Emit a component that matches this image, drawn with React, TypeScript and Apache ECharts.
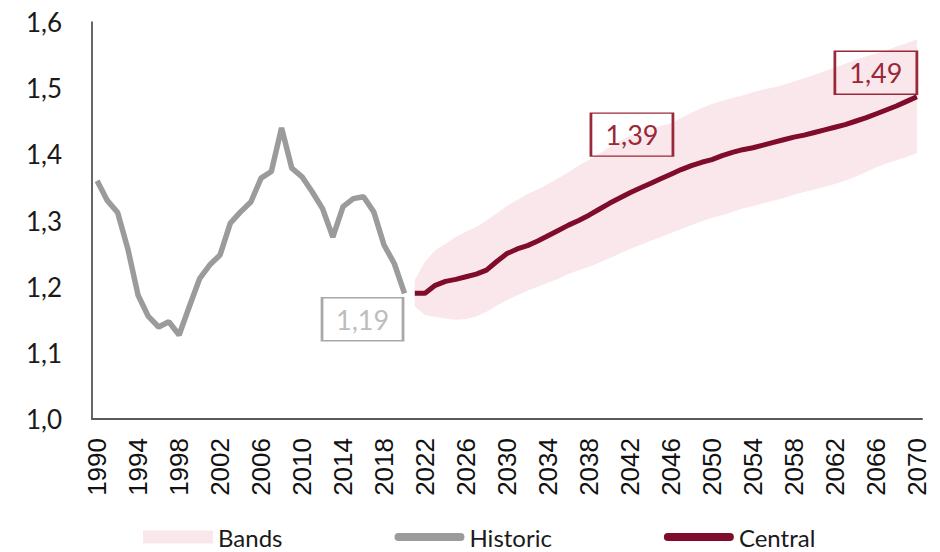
import React, { useEffect, useRef } from "react";
import * as echarts from "echarts";

const years: string[] = Array.from({ length: 81 }, (_, i) => String(1990 + i));

const historicYears = ["1990", "2020"];
const historic: number[] = [
  1.36, 1.33, 1.312, 1.257, 1.187, 1.155, 1.139, 1.147, 1.127, 1.17,
  1.212, 1.233, 1.248, 1.296, 1.313, 1.328, 1.364, 1.374, 1.44, 1.379,
  1.366, 1.343, 1.318, 1.275, 1.321, 1.333, 1.336, 1.313, 1.263, 1.235,
  1.19,
];

// 2021 - 2070
const central: number[] = [
  1.19, 1.19, 1.202, 1.208, 1.211, 1.215, 1.219, 1.225, 1.238, 1.25,
  1.257, 1.262, 1.269, 1.277, 1.285, 1.293, 1.3, 1.308, 1.317, 1.326,
  1.334, 1.342, 1.349, 1.356, 1.363, 1.37, 1.377, 1.383, 1.388, 1.392,
  1.398, 1.403, 1.407, 1.41, 1.414, 1.418, 1.422, 1.426, 1.429, 1.433,
  1.437, 1.441, 1.445, 1.45, 1.455, 1.461, 1.467, 1.473, 1.48, 1.487,
];

// 2021 - 2070
const bandUpper: number[] = [
  1.21, 1.238, 1.255, 1.265, 1.275, 1.283, 1.29, 1.3, 1.311, 1.322,
  1.331, 1.34, 1.347, 1.355, 1.364, 1.373, 1.383, 1.392, 1.401, 1.411,
  1.42, 1.428, 1.433, 1.438, 1.443, 1.447, 1.455, 1.463, 1.47, 1.476,
  1.481, 1.485, 1.489, 1.494, 1.498, 1.501, 1.505, 1.51, 1.515, 1.52,
  1.526, 1.531, 1.537, 1.543, 1.548, 1.552, 1.557, 1.563, 1.568, 1.574,
];
const bandLower: number[] = [
  1.17, 1.157, 1.154, 1.152, 1.15, 1.151, 1.155, 1.162, 1.171, 1.18,
  1.187, 1.194, 1.2, 1.206, 1.212, 1.219, 1.225, 1.23, 1.236, 1.243,
  1.25, 1.257, 1.263, 1.269, 1.275, 1.281, 1.287, 1.293, 1.299, 1.304,
  1.308, 1.313, 1.318, 1.322, 1.326, 1.33, 1.334, 1.339, 1.343, 1.347,
  1.351, 1.355, 1.36, 1.366, 1.373, 1.38, 1.386, 1.391, 1.396, 1.402,
];

const labelledCentralYears = ["2050", "2070"];

const GRAY = "#9B9B9B";
const RED = "#7E0C2A";
const BOXRED = "#9A2838";
const PINK = "#FAE7EB";
const FONT = "Lato, 'Open Sans', sans-serif";

export default function App() {
  const ref = useRef<HTMLDivElement>(null);
  useEffect(() => {
    if (!ref.current) return;
    const chart = echarts.init(ref.current, null, { renderer: "svg" });
    const histStart = years.indexOf(historicYears[0]);
    const centralStart = years.indexOf("2021");
    const histData = years.map((_, i) =>
      i >= histStart && i - histStart < historic.length ? historic[i - histStart] : null
    );
    const centralData = years.map((_, i) =>
      i >= centralStart ? central[i - centralStart] : null
    );
    const lowerData = years.map((_, i) =>
      i >= centralStart ? bandLower[i - centralStart] : null
    );
    const diffData = years.map((_, i) =>
      i >= centralStart ? +(bandUpper[i - centralStart] - bandLower[i - centralStart]).toFixed(4) : null
    );
    const fmt = (v: number) => v.toFixed(2).replace(".", ",");
    const histLastIdx = years.indexOf(historicYears[1]);
    const c1 = years.indexOf(labelledCentralYears[0]);
    const c2 = years.indexOf(labelledCentralYears[1]);
    const lineIcon =
      "path://M4,0 L66,0 A4,4 0 0 1 66,8 L4,8 A4,4 0 0 1 4,0 Z";

    chart.setOption({
      animation: false,
      grid: { left: 92, right: 18, top: 22, bottom: 133 },
      legend: {
        left: 143,
        top: 525,
        padding: 0,
        itemWidth: 70,
        itemHeight: 13,
        itemGap: 112,
        textStyle: { fontFamily: FONT, fontSize: 24, color: "#1a1a1a" },
        data: [
          { name: "Bands", icon: "rect", itemStyle: { color: PINK } },
          { name: "Historic", icon: lineIcon, itemStyle: { color: GRAY } },
          { name: "Central", icon: lineIcon, itemStyle: { color: RED } },
        ],
      },
      xAxis: {
        type: "category",
        data: years,
        boundaryGap: true,
        axisLine: { lineStyle: { color: "#5a5a5a", width: 2 } },
        axisTick: { show: false },
        axisLabel: {
          interval: 3,
          rotate: 90,
          margin: 19,
          fontSize: 26,
          fontFamily: "'Liberation Sans Narrow', 'Liberation Sans', sans-serif",
          color: "#111",
        },
      },
      yAxis: {
        type: "value",
        min: 1,
        max: 1.6,
        interval: 0.1,
        axisLine: { show: true, lineStyle: { color: "#333", width: 1.5 } },
        axisTick: { show: false },
        splitLine: { show: false },
        axisLabel: {
          formatter: (v: number) => v.toFixed(1).replace(".", ","),
          fontSize: 26,
          margin: 30,
          color: "#1a1a1a",
          fontFamily: FONT,
        },
      },
      series: [
        {
          name: "lower",
          type: "line",
          data: lowerData,
          stack: "band",
          symbol: "none",
          lineStyle: { opacity: 0 },
          silent: true,
          z: 1,
        },
        {
          name: "Bands",
          type: "line",
          data: diffData,
          stack: "band",
          symbol: "none",
          itemStyle: { color: PINK },
          lineStyle: { opacity: 0, width: 0 },
          areaStyle: { color: PINK, opacity: 1 },
          silent: true,
          z: 1,
        },
        {
          name: "Historic",
          type: "line",
          data: histData,
          symbol: "none",
          color: GRAY,
          itemStyle: { color: GRAY },
          lineStyle: { color: GRAY, width: 5.5 },
          z: 3,
          markPoint: {
            silent: true,
            symbol: "rect",
            symbolSize: [81, 43],
            itemStyle: { color: "rgba(255,255,255,0)", borderColor: "#A8A8A8", borderWidth: 2 },
            label: {
              show: true,
              color: "#BDBDBD",
              fontSize: 27,
              fontFamily: FONT,
              formatter: (p: any) => fmt(p.value),
            },
            data: [
              {
                coord: [years[histLastIdx], historic[historic.length - 1]],
                value: historic[historic.length - 1],
                symbolOffset: [-42, 26],
              },
            ],
          },
        },
        {
          name: "Central",
          type: "line",
          data: centralData,
          symbol: "none",
          color: RED,
          itemStyle: { color: RED },
          lineStyle: { color: RED, width: 5 },
          z: 4,
          markPoint: {
            silent: true,
            symbol: "rect",
            symbolSize: [82, 43],
            itemStyle: { color: "rgba(255,255,255,0)", borderColor: BOXRED, borderWidth: 2 },
            label: {
              show: true,
              color: BOXRED,
              fontSize: 27,
              fontFamily: FONT,
              formatter: (p: any) => fmt(p.value),
            },
            data: [
              {
                coord: [years[c1], central[c1 - centralStart]],
                value: central[c1 - centralStart],
                symbolOffset: [-80, -25],
              },
              {
                coord: [years[c2], central[c2 - centralStart]],
                value: central[c2 - centralStart],
                symbolOffset: [-41, -24],
              },
            ],
          },
        },
      ],
    });
    return () => chart.dispose();
  }, []);
  return (
    <div
      ref={ref}
      style={{ position: "fixed", left: 0, top: 0, width: 940, height: 552, background: "#fff" }}
    />
  );
}
